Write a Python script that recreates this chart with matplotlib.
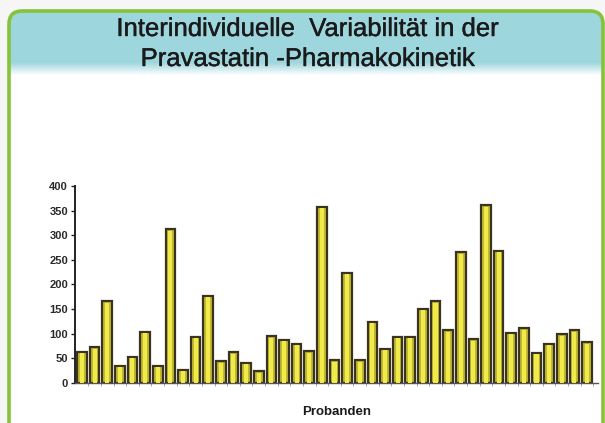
import matplotlib
matplotlib.use("Agg")
import matplotlib.pyplot as plt
from matplotlib.patches import FancyBboxPatch
import matplotlib.patheffects as pe
import numpy as np

plt.rcParams['font.family'] = ['Liberation Sans', 'DejaVu Sans']

title_lines = ["Interindividuelle  Variabilität in der", "Pravastatin -Pharmakokinetik"]
x_label = "Probanden"
y_ticks = [0, 50, 100, 150, 200, 250, 300, 350, 400]

# one value per proband
werte = [63, 73, 166, 35, 53, 104, 35, 312, 27, 94,
         177, 44, 62, 41, 24, 95, 88, 80, 64, 358,
         46, 224, 46, 124, 70, 94, 94, 151, 166, 107,
         265, 89, 361, 268, 102, 111, 61, 80, 99, 107,
         83]

fig = plt.figure(figsize=(6.05, 4.23), dpi=100)
fig.patch.set_facecolor('#f6f6f6')

# background layer in pixel coordinates
bg = fig.add_axes([0, 0, 1, 1])
bg.set_xlim(0, 605)
bg.set_ylim(423, 0)
bg.axis('off')

box = (9, 11)
bw, bh = 594, 460
panel = FancyBboxPatch(box, bw, bh, boxstyle="round,pad=0,rounding_size=13",
                       facecolor='white', edgecolor='none', zorder=1)
bg.add_patch(panel)

# light blue title banner fading into white
grad = np.ones((40, 1, 3))
top = np.array([0.62, 0.84, 0.87])
for i in range(40):
    t = i / 39
    if t < 0.8:
        grad[i, 0] = top
    else:
        f = (t - 0.8) / 0.2
        grad[i, 0] = top * (1 - f) + np.array([1, 1, 1]) * f
img = bg.imshow(grad, extent=(box[0], box[0] + bw, 76, box[1]), aspect='auto', zorder=2)
img.set_clip_path(panel)

rand = FancyBboxPatch(box, bw, bh, boxstyle="round,pad=0,rounding_size=13",
                      facecolor='none', edgecolor='#86c23a', linewidth=2.6, zorder=4)
bg.add_patch(rand)

dick = [pe.withStroke(linewidth=0.3, foreground='#1a1a1a')]
bg.text(308, 29, title_lines[0], ha='center', va='center', fontsize=18.5,
        color='#1a1a1a', zorder=3, path_effects=dick)
bg.text(308, 59, title_lines[1], ha='center', va='center', fontsize=18.5,
        color='#1a1a1a', zorder=3, path_effects=dick)

# the bar chart
ax = fig.add_axes([0.124, 0.0946, 0.864, 0.4657])
ax.patch.set_alpha(0)
x = np.arange(len(werte))
ax.bar(x, werte, width=0.76, color='#c4ba30', edgecolor='#3a3320', linewidth=1.6, zorder=2)
ax.bar(x, np.array(werte) - 3, width=0.32, color='#f0ea4a', linewidth=0, zorder=3)

ax.set_xlim(-0.55, 40.85)
ax.set_ylim(0, 400)
ax.set_yticks(y_ticks)
ax.set_yticklabels([str(v) for v in y_ticks], fontsize=8, fontweight='bold', color='#2a2a2a')
ax.set_xticks([])
ax.set_xticks(x + 0.5, minor=True)
ax.tick_params(axis='x', which='minor', length=2.5, color='#999999')
ax.tick_params(axis='y', length=3, width=1, pad=2, color='#222222')

for s in ['top', 'right']:
    ax.spines[s].set_visible(False)
ax.spines['left'].set_color('#222222')
ax.spines['left'].set_linewidth(1.4)
ax.spines['bottom'].set_color('#555555')
ax.spines['bottom'].set_linewidth(1)

ax.set_xlabel(x_label, fontsize=9.5, fontweight='bold', color='#1a1a1a', labelpad=11)

fig.savefig("out.png", dpi=100)
